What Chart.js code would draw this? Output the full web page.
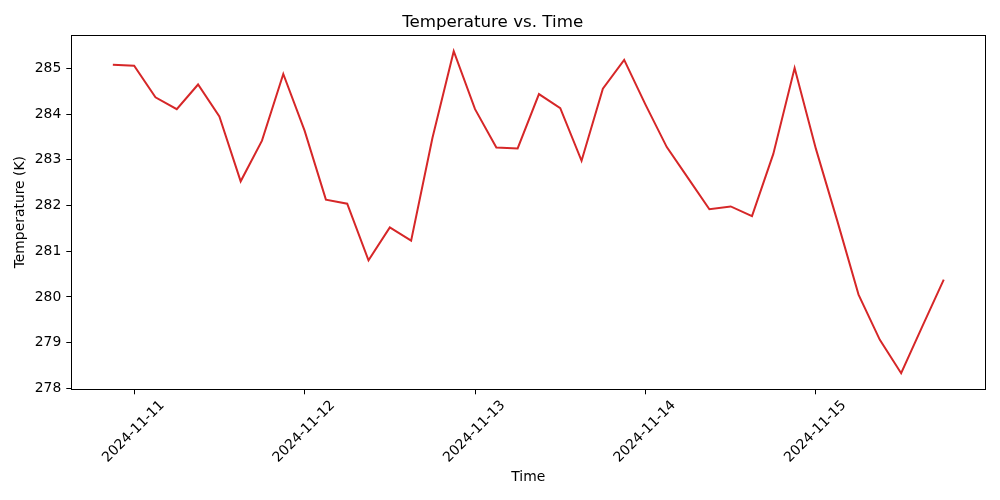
<!DOCTYPE html>
<html>
<head>
<meta charset="utf-8">
<script src="https://cdn.jsdelivr.net/npm/chart.js@4.4.0/dist/chart.umd.min.js"></script>
<style>
    html, body { margin: 0; padding: 0; background: #fff; }
    #wrap { width: 1000px; height: 500px; }
</style>
</head>
<body>
<div id="wrap"><canvas id="mycanvas"></canvas></div>
<script>
// 3-hourly samples
var times = [
    '2024-11-10T21:00',
    '2024-11-11T00:00', '2024-11-11T03:00', '2024-11-11T06:00', '2024-11-11T09:00',
    '2024-11-11T12:00', '2024-11-11T15:00', '2024-11-11T18:00', '2024-11-11T21:00',
    '2024-11-12T00:00', '2024-11-12T03:00', '2024-11-12T06:00', '2024-11-12T09:00',
    '2024-11-12T12:00', '2024-11-12T15:00', '2024-11-12T18:00', '2024-11-12T21:00',
    '2024-11-13T00:00', '2024-11-13T03:00', '2024-11-13T06:00', '2024-11-13T09:00',
    '2024-11-13T12:00', '2024-11-13T15:00', '2024-11-13T18:00', '2024-11-13T21:00',
    '2024-11-14T00:00', '2024-11-14T03:00', '2024-11-14T06:00', '2024-11-14T09:00',
    '2024-11-14T12:00', '2024-11-14T15:00', '2024-11-14T18:00', '2024-11-14T21:00',
    '2024-11-15T00:00', '2024-11-15T03:00', '2024-11-15T06:00', '2024-11-15T09:00',
    '2024-11-15T12:00', '2024-11-15T15:00', '2024-11-15T18:00'
];
var temperature = [
    285.08, 285.06, 284.37, 284.11, 284.65, 283.95, 282.53, 283.42, 284.88, 283.64,
    282.13, 282.04, 280.80, 281.52, 281.23, 283.48, 285.38, 284.11, 283.27, 283.25,
    284.44, 284.13, 282.98, 284.56, 285.19, 284.21, 283.28, 282.60, 281.92, 281.98,
    281.77, 283.13, 285.01, 283.24, 281.67, 280.05, 279.06, 278.33, 279.36, 280.38
];
var dayTicks = ['2024-11-11', '2024-11-12', '2024-11-13', '2024-11-14', '2024-11-15'];
var tempTicks = [278, 279, 280, 281, 282, 283, 284, 285];

function toMs(s) { return Date.parse(s + ':00Z'); }

var points = [];
for (var i in times) {
    points.push({ x: toMs(times[i]), y: temperature[i] });
}

// matplotlib-like 5% margins
var xLo = toMs(times[0]), xHi = toMs(times[times.length - 1]);
var yLo = Math.min.apply(null, temperature), yHi = Math.max.apply(null, temperature);
var xPad = (xHi - xLo) * 0.05, yPad = (yHi - yLo) * 0.05;

var font = 'DejaVu Sans';
Chart.defaults.font.family = font;
Chart.defaults.color = '#000';

var frame = {
    id: 'frame',
    afterDraw: function (chart) {
        var a = chart.chartArea, c = chart.ctx;
        c.save();
        c.strokeStyle = '#000';
        c.lineWidth = 1;
        c.strokeRect(Math.round(a.left) + 0.5, Math.round(a.top) + 0.5,
            Math.round(a.right - a.left), Math.round(a.bottom - a.top));
        c.restore();
    }
};

var ctx = document.getElementById('mycanvas');
var myChart = new Chart(ctx, {
    type: 'line',
    data: {
        datasets: [{
            data: points,
            borderColor: '#d62728',
            borderWidth: 2,
            pointRadius: 0,
            tension: 0,
            fill: false
        }]
    },
    options: {
        responsive: true,
        maintainAspectRatio: false,
        animation: false,
        layout: { padding: { left: 0, right: 14.7, top: 0, bottom: 0 } },
        plugins: {
            legend: { display: false },
            tooltip: { enabled: false },
            title: {
                display: true,
                text: 'Temperature vs. Time',
                font: { size: 16.7, weight: 'normal' },
                color: '#000',
                padding: { top: 13, bottom: 2 }
            }
        },
        scales: {
            x: {
                type: 'linear',
                min: xLo - xPad,
                max: xHi + xPad,
                afterBuildTicks: function (axis) {
                    axis.ticks = dayTicks.map(function (d) { return { value: Date.parse(d + 'T00:00:00Z') }; });
                },
                afterFit: function (axis) { axis.height = 110.7; },
                grid: { drawOnChartArea: false, drawTicks: true, tickLength: 5, color: '#000' },
                border: { display: false },
                ticks: {
                    autoSkip: false,
                    minRotation: 45,
                    maxRotation: 45,
                    padding: 3,
                    labelOffset: 28,
                    font: { size: 13.9 },
                    color: '#000',
                    callback: function (v) { return new Date(v).toISOString().slice(0, 10); }
                },
                title: {
                    display: true,
                    text: 'Time',
                    font: { size: 13.9 },
                    color: '#000',
                    padding: { top: 0, bottom: 14 }
                }
            },
            y: {
                min: yLo - yPad,
                max: yHi + yPad,
                afterBuildTicks: function (axis) {
                    axis.ticks = tempTicks.map(function (v) { return { value: v }; });
                },
                afterFit: function (axis) { axis.width = 71.3; },
                grid: { drawOnChartArea: false, drawTicks: true, tickLength: 5, color: '#000' },
                border: { display: false },
                ticks: {
                    padding: 5,
                    font: { size: 13.9 },
                    color: '#000'
                },
                title: {
                    display: true,
                    text: 'Temperature (K)',
                    font: { size: 13.9 },
                    color: '#000',
                    padding: { top: 12, bottom: 0 }
                }
            }
        }
    },
    plugins: [frame]
});
</script>
</body>
</html>
